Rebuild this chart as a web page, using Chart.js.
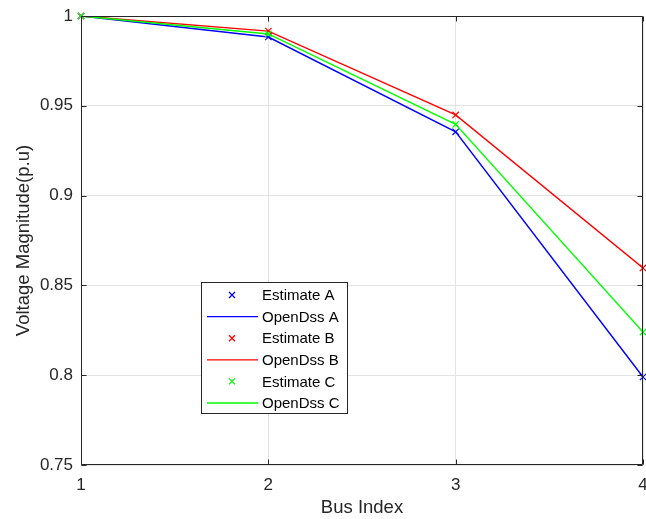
<!DOCTYPE html>
<html>
<head>
<meta charset="utf-8">
<script src="https://cdn.jsdelivr.net/npm/chart.js@4/dist/chart.umd.min.js"></script>
<style>
html,body{margin:0;padding:0;background:#fff;}
#wrap{width:646px;height:519px;}
</style>
</head>
<body>
<div id="wrap"><canvas id="c" width="646" height="519"></canvas></div>
<script>
// ---- data ----
const busIndex = [1, 2, 3, 4];
const estimateA = [1, 0.9883, 0.9355, 0.799];
const openDssA  = [1, 0.9883, 0.9355, 0.799];
const estimateB = [1, 0.9916, 0.9449, 0.8597];
const openDssB  = [1, 0.9916, 0.9449, 0.8597];
const estimateC = [1, 0.9900, 0.9397, 0.824];
const openDssC  = [1, 0.9900, 0.9397, 0.824];
const yTickValues = [0.75, 0.8, 0.85, 0.9, 0.95, 1];
const yTickLabels = ['0.75', '0.8', '0.85', '0.9', '0.95', '1'];
const xTickLabels = ['1', '2', '3', '4'];
const seriesNames = ['Estimate A', 'OpenDss A', 'Estimate B', 'OpenDss B', 'Estimate C', 'OpenDss C'];

const BLUE = '#0000ff', RED = '#ff0000', GREEN = '#00ff00';
const AX = '#262626';
const FONT = '"Liberation Sans", Arial, Helvetica, sans-serif';

function pts(vals) { return busIndex.map((x, i) => ({x: x, y: vals[i]})); }

function estDs(label, vals, color, order) {
  return {label, data: pts(vals), showLine: false, borderColor: color, backgroundColor: color,
    pointStyle: 'crossRot', pointRadius: 4.5, pointBorderWidth: 1.2, pointHoverRadius: 4.5,
    clip: false, order, _kind: 'marker'};
}
function lineDs(label, vals, color, order) {
  return {label, data: pts(vals), showLine: true, borderColor: color, backgroundColor: color,
    borderWidth: 1.4, pointRadius: 0, pointHoverRadius: 0, tension: 0, fill: false, order, _kind: 'line'};
}

const datasets = [
  estDs(seriesNames[0], estimateA, BLUE, 6),
  lineDs(seriesNames[1], openDssA, BLUE, 5),
  estDs(seriesNames[2], estimateB, RED, 4),
  lineDs(seriesNames[3], openDssB, RED, 3),
  estDs(seriesNames[4], estimateC, GREEN, 2),
  lineDs(seriesNames[5], openDssC, GREEN, 1)
];

const framePlugin = {
  id: 'frame',
  afterDatasetsDraw(chart) {
    const ctx = chart.ctx, a = chart.chartArea;
    const xs = chart.scales.x, ys = chart.scales.y;
    ctx.save();
    ctx.strokeStyle = AX;
    ctx.lineWidth = 1;
    ctx.beginPath();
    const L = Math.round(a.left) + 0.5, R = Math.round(a.right) - 0.5;
    const T = Math.round(a.top) + 0.5, B = Math.round(a.bottom) - 0.5;
    ctx.rect(L, T, R - L, B - T);
    const tl = 5;
    xs.ticks.forEach(t => {
      const px = Math.round(xs.getPixelForValue(t.value)) + 0.5;
      ctx.moveTo(px, B); ctx.lineTo(px, B - tl);
      ctx.moveTo(px, T); ctx.lineTo(px, T + tl);
    });
    ys.ticks.forEach(t => {
      const py = Math.round(ys.getPixelForValue(t.value)) + 0.5;
      ctx.moveTo(L, py); ctx.lineTo(L + tl, py);
      ctx.moveTo(R, py); ctx.lineTo(R - tl, py);
    });
    ctx.stroke();

    // legend
    const lx = a.left + 120, ly = a.top + 266, lw = 146, lh = 131;
    ctx.fillStyle = '#ffffff';
    ctx.fillRect(lx, ly, lw, lh);
    ctx.strokeStyle = AX;
    ctx.strokeRect(Math.round(lx) + 0.5, Math.round(ly) + 0.5, lw, lh);
    ctx.font = '15px ' + FONT;
    ctx.textBaseline = 'middle';
    ctx.textAlign = 'left';
    chart.data.datasets.forEach((ds, i) => {
      const cy = ly + 13 + i * 21.6;
      ctx.strokeStyle = ds.borderColor;
      ctx.lineWidth = 1.3;
      ctx.beginPath();
      if (ds._kind === 'line') {
        ctx.moveTo(lx + 6, cy); ctx.lineTo(lx + 57, cy);
      } else {
        const cx = lx + 31, r = 3;
        ctx.moveTo(cx - r, cy - r); ctx.lineTo(cx + r, cy + r);
        ctx.moveTo(cx + r, cy - r); ctx.lineTo(cx - r, cy + r);
      }
      ctx.stroke();
      ctx.fillStyle = '#000';
      ctx.fillText(ds.label, lx + 61, cy + 1);
    });
    ctx.restore();
  }
};

new Chart(document.getElementById('c'), {
  type: 'scatter',
  data: {datasets},
  plugins: [framePlugin],
  options: {
    responsive: false,
    animation: false,
    devicePixelRatio: 1,
    layout: {autoPadding: false, padding: {left: 0, right: 3, top: 16, bottom: 0}},
    plugins: {legend: {display: false}, tooltip: {enabled: false}},
    scales: {
      x: {
        type: 'linear', min: 1, max: 4,
        afterBuildTicks: s => { s.ticks = busIndex.map(v => ({value: v})); },
        afterFit: s => { s.height = 54; s.paddingLeft = 0; s.paddingRight = 0; },
        ticks: {
          padding: 10, color: AX, maxRotation: 0, autoSkip: false,
          font: {family: FONT, size: 17},
          callback: (v, i) => xTickLabels[i]
        },
        grid: {color: '#e3e3e3', lineWidth: 1, drawTicks: false},
        border: {display: false},
        title: {display: true, text: 'Bus Index', color: AX, font: {family: FONT, size: 18.5}, padding: {top: 0, bottom: 0}}
      },
      y: {
        type: 'linear', min: 0.75, max: 1,
        afterBuildTicks: s => { s.ticks = yTickValues.map(v => ({value: v})); },
        afterFit: s => { s.width = 81; s.paddingTop = 0; s.paddingBottom = 0; },
        ticks: {
          padding: 8, color: AX, autoSkip: false,
          font: {family: FONT, size: 17},
          callback: (v, i) => yTickLabels[i]
        },
        grid: {color: '#e3e3e3', lineWidth: 1, drawTicks: false},
        border: {display: false},
        title: {display: true, text: 'Voltage Magnitude(p.u)', color: AX, font: {family: FONT, size: 18.5}, padding: {top: 13, bottom: 0}}
      }
    }
  }
});
</script>
</body>
</html>
